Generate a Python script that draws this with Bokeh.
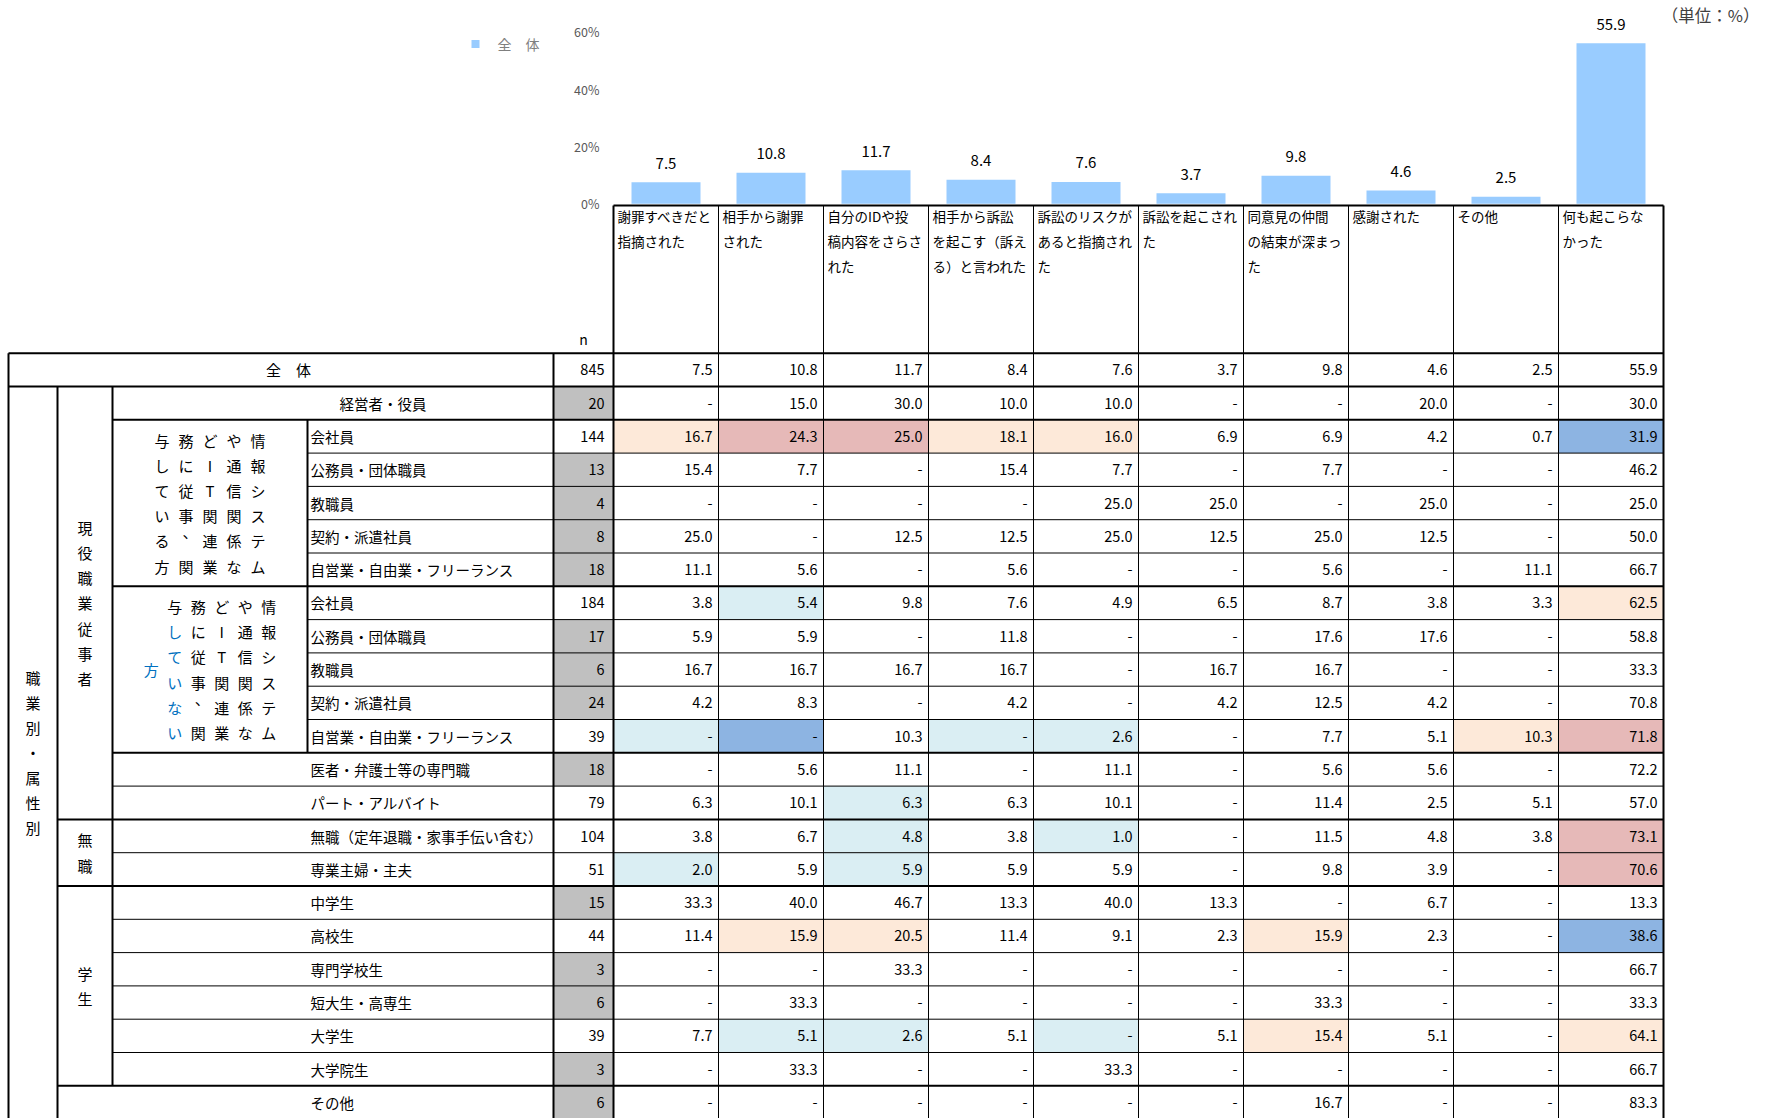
from bokeh.plotting import figure
from bokeh.models import Range1d, ColumnDataSource
from bokeh.core.properties import value
from bokeh.embed import file_html
from bokeh.resources import INLINE

# ---------------- data ----------------
item_labels = [
    ["謝罪すべきだと", "指摘された"],
    ["相手から謝罪", "された"],
    ["自分のIDや投", "稿内容をさらさ", "れた"],
    ["相手から訴訟", "を起こす（訴え", "る）と言われた"],
    ["訴訟のリスクが", "あると指摘され", "た"],
    ["訴訟を起こされ", "た"],
    ["同意見の仲間", "の結束が深まっ", "た"],
    ["感謝された"],
    ["その他"],
    ["何も起こらな", "かった"],
]
overall_label = "全　体"
overall_n = 845
overall = [7.5, 10.8, 11.7, 8.4, 7.6, 3.7, 9.8, 4.6, 2.5, 55.9]

axis_ticks = [0, 20, 40, 60]
axis_tick_labels = ["0%", "20%", "40%", "60%"]

row_labels = [
    "経営者・役員",
    "会社員", "公務員・団体職員", "教職員", "契約・派遣社員", "自営業・自由業・フリーランス",
    "会社員", "公務員・団体職員", "教職員", "契約・派遣社員", "自営業・自由業・フリーランス",
    "医者・弁護士等の専門職", "パート・アルバイト",
    "無職（定年退職・家事手伝い含む）", "専業主婦・主夫",
    "中学生", "高校生", "専門学校生", "短大生・高専生", "大学生", "大学院生",
    "その他",
]
row_n = [20, 144, 13, 4, 8, 18, 184, 17, 6, 24, 39, 18, 79, 104, 51, 15, 44, 3, 6, 39, 3, 6]
row_values = [
    [0, 15.0, 30.0, 10.0, 10.0, 0, 0, 20.0, 0, 30.0],
    [16.7, 24.3, 25.0, 18.1, 16.0, 6.9, 6.9, 4.2, 0.7, 31.9],
    [15.4, 7.7, 0, 15.4, 7.7, 0, 7.7, 0, 0, 46.2],
    [0, 0, 0, 0, 25.0, 25.0, 0, 25.0, 0, 25.0],
    [25.0, 0, 12.5, 12.5, 25.0, 12.5, 25.0, 12.5, 0, 50.0],
    [11.1, 5.6, 0, 5.6, 0, 0, 5.6, 0, 11.1, 66.7],
    [3.8, 5.4, 9.8, 7.6, 4.9, 6.5, 8.7, 3.8, 3.3, 62.5],
    [5.9, 5.9, 0, 11.8, 0, 0, 17.6, 17.6, 0, 58.8],
    [16.7, 16.7, 16.7, 16.7, 0, 16.7, 16.7, 0, 0, 33.3],
    [4.2, 8.3, 0, 4.2, 0, 4.2, 12.5, 4.2, 0, 70.8],
    [0, 0, 10.3, 0, 2.6, 0, 7.7, 5.1, 10.3, 71.8],
    [0, 5.6, 11.1, 0, 11.1, 0, 5.6, 5.6, 0, 72.2],
    [6.3, 10.1, 6.3, 6.3, 10.1, 0, 11.4, 2.5, 5.1, 57.0],
    [3.8, 6.7, 4.8, 3.8, 1.0, 0, 11.5, 4.8, 3.8, 73.1],
    [2.0, 5.9, 5.9, 5.9, 5.9, 0, 9.8, 3.9, 0, 70.6],
    [33.3, 40.0, 46.7, 13.3, 40.0, 13.3, 0, 6.7, 0, 13.3],
    [11.4, 15.9, 20.5, 11.4, 9.1, 2.3, 15.9, 2.3, 0, 38.6],
    [0, 0, 33.3, 0, 0, 0, 0, 0, 0, 66.7],
    [0, 33.3, 0, 0, 0, 0, 33.3, 0, 0, 33.3],
    [7.7, 5.1, 2.6, 5.1, 0, 5.1, 15.4, 5.1, 0, 64.1],
    [0, 33.3, 0, 0, 33.3, 0, 0, 0, 0, 66.7],
    [0, 0, 0, 0, 0, 0, 16.7, 0, 0, 83.3],
]
group_outer = "職業別・属性別"
group_active = "現役職業従事者"
group_nojob = "無職"
group_student = "学生"
it_text_yes = "情報システムや通信関係などIT関連業務に従事、関与している方"
it_text_no = "情報システムや通信関係などIT関連業務に従事、関与していない方"
legend_label = "全　体"
unit_label = "（単位：%）"
n_header = "n"

# ---------------- layout / style ----------------
FONT = value("Noto Sans CJK JP")
PAGE_L, PAGE_R, PAGE_T, PAGE_B = 0, 1768, 0, 1118
HEAD_TOP = 205.0
ROW_TOP = 352.7
ROW_H = 33.3
DATA_L = 613.0
COL_W = 105.0
X_OUT, X_G1, X_G2, X_SUB, X_N = 8.0, 57.0, 112.0, 307.0, 553.0
BASE_Y = 203.3
PX_PER_PCT = 2.87
BAR_COLOR = "#99CCFF"
SMALL_N = 30
C_UP2, C_UP1, C_DN1, C_DN2 = "#E6B9B8", "#FDE9D9", "#DAEEF3", "#8DB4E2"
N_GREY = "#C0C0C0"
label_x_default = 310.0
label_x_special = {0: 339.0}
blue_text = "#0070C0"

NCOL = len(overall)
NROW = len(row_labels) + 1


def rtop(i):
    return ROW_TOP + i * ROW_H


def rmid(i):
    return ROW_TOP + (i + 0.5) * ROW_H


def cleft(j):
    return DATA_L + j * COL_W


p = figure(width=PAGE_R - PAGE_L, height=PAGE_B - PAGE_T,
           x_range=Range1d(PAGE_L, PAGE_R), y_range=Range1d(PAGE_B, PAGE_T),
           output_backend="svg", toolbar_location=None,
           x_axis_location=None, y_axis_location=None, min_border=0)
p.grid.visible = False
p.outline_line_color = None
p.background_fill_color = "white"

pct_top = (BASE_Y - PAGE_T) / PX_PER_PCT
pct_bottom = (BASE_Y - PAGE_B) / PX_PER_PCT
p.extra_y_ranges = {"pct": Range1d(pct_bottom, pct_top)}

# ---------------- backgrounds ----------------
ql, qr, qt, qb, qc = [], [], [], [], []
for i, n in enumerate(row_n):
    r = i + 1
    if n < SMALL_N:
        ql.append(X_N); qr.append(DATA_L); qt.append(rtop(r)); qb.append(rtop(r + 1)); qc.append(N_GREY)
    else:
        for j, v in enumerate(row_values[i]):
            d = round(v - overall[j], 1)
            col = None
            if d >= 10:
                col = C_UP2
            elif d >= 5:
                col = C_UP1
            elif d <= -10:
                col = C_DN2
            elif d <= -5:
                col = C_DN1
            if col:
                ql.append(cleft(j)); qr.append(cleft(j + 1)); qt.append(rtop(r)); qb.append(rtop(r + 1)); qc.append(col)
p.quad(left=ql, right=qr, top=qt, bottom=qb, fill_color=qc, line_color=None)

# ---------------- bar chart ----------------
bar_x = [cleft(j) + COL_W / 2 for j in range(NCOL)]
p.vbar(x=bar_x, top=overall, bottom=0, width=69, fill_color=BAR_COLOR, line_color=None, y_range_name="pct")
p.text(x=bar_x, y=overall, text=[f"{v:.1f}" for v in overall], y_range_name="pct",
       text_align="center", text_baseline="middle", y_offset=-19,
       text_font=FONT, text_font_size="15px", text_color="#000000")
p.text(x=[599] * len(axis_ticks), y=axis_ticks, text=axis_tick_labels, y_range_name="pct",
       text_align="right", text_baseline="middle",
       text_font=FONT, text_font_size="12.5px", text_color="#595959")

# legend
p.rect(x=[475], y=[43.6], width=8, height=8, fill_color=BAR_COLOR, line_color=None)
p.text(x=[497], y=[43.6], text=[legend_label], text_align="left", text_baseline="middle",
       text_font=FONT, text_font_size="14px", text_color="#7F7F7F")
p.text(x=[1759], y=[14], text=[unit_label], text_align="right", text_baseline="middle",
       text_font=FONT, text_font_size="16.5px", text_color="#404040")

# ---------------- lines ----------------
thick = dict(x0=[], y0=[], x1=[], y1=[])
thin = dict(x0=[], y0=[], x1=[], y1=[])


def seg(d, x0, y0, x1, y1):
    d["x0"].append(x0); d["y0"].append(y0); d["x1"].append(x1); d["y1"].append(y1)


bottom_y = rtop(NROW)
right_x = cleft(NCOL)
# verticals
seg(thick, X_OUT, rtop(0), X_OUT, bottom_y)
seg(thick, X_G1, rtop(1), X_G1, bottom_y)
seg(thick, X_G2, rtop(1), X_G2, rtop(22))
seg(thick, X_SUB, rtop(2), X_SUB, rtop(12))
seg(thick, X_N, rtop(0), X_N, bottom_y)
seg(thick, DATA_L, HEAD_TOP, DATA_L, bottom_y)
for j in range(1, NCOL):
    seg(thin, cleft(j), HEAD_TOP, cleft(j), bottom_y)
seg(thick, right_x, HEAD_TOP, right_x, bottom_y)
# horizontals
seg(thick, DATA_L, HEAD_TOP, right_x, HEAD_TOP)
seg(thick, X_OUT, rtop(0), right_x, rtop(0))
seg(thick, X_OUT, rtop(1), right_x, rtop(1))
for r in (2, 7, 12):
    seg(thick, X_G2, rtop(r), right_x, rtop(r))
for r in (3, 4, 5, 6, 8, 9, 10, 11):
    seg(thin, X_SUB, rtop(r), right_x, rtop(r))
for r in (13, 15, 17, 18, 19, 20, 21):
    seg(thin, X_G2, rtop(r), right_x, rtop(r))
for r in (14, 16, 22):
    seg(thick, X_G1, rtop(r), right_x, rtop(r))
p.segment(source=ColumnDataSource(thick), x0="x0", y0="y0", x1="x1", y1="y1", line_color="#000000", line_width=2)
p.segment(source=ColumnDataSource(thin), x0="x0", y0="y0", x1="x1", y1="y1", line_color="#000000", line_width=1)

# ---------------- header texts ----------------
hx, hy, ht = [], [], []
for j, lines in enumerate(item_labels):
    for k, s in enumerate(lines):
        hx.append(cleft(j) + 4); hy.append(215.5 + 25 * k); ht.append(s)
p.text(x=hx, y=hy, text=ht, text_align="left", text_baseline="middle",
       text_font=FONT, text_font_size="13.5px", text_color="#000000")
p.text(x=[(X_N + DATA_L) / 2], y=[338], text=[n_header], text_align="center", text_baseline="middle",
       text_font=FONT, text_font_size="14px", text_color="#000000")

# ---------------- table texts ----------------
p.text(x=[288], y=[rmid(0)], text=[overall_label], text_align="center", text_baseline="middle",
       text_font=FONT, text_font_size="15px", text_color="#000000")
lx = [label_x_special.get(i, label_x_default) for i in range(len(row_labels))]
ly = [rmid(i + 1) for i in range(len(row_labels))]
p.text(x=lx, y=ly, text=row_labels, text_align="left", text_baseline="middle",
       text_font=FONT, text_font_size="14.5px", text_color="#000000")

nx = [DATA_L - 9] * NROW
ny = [rmid(i) for i in range(NROW)]
nt = [str(overall_n)] + [str(n) for n in row_n]
p.text(x=nx, y=ny, text=nt, text_align="right", text_baseline="middle",
       text_font=FONT, text_font_size="14.5px", text_color="#000000")

vx, vy, vt = [], [], []
all_rows = [overall] + row_values
for i, vals in enumerate(all_rows):
    for j, v in enumerate(vals):
        vx.append(cleft(j + 1) - 6); vy.append(rmid(i)); vt.append("-" if v == 0 else f"{v:.1f}")
p.text(x=vx, y=vy, text=vt, text_align="right", text_baseline="middle",
       text_font=FONT, text_font_size="14.5px", text_color="#000000")

# ---------------- vertical group labels ----------------
def vertical(s, cx, cy, sp, color="#000000"):
    n = len(s)
    ys = [cy + (k - (n - 1) / 2) * sp for k in range(n)]
    p.text(x=[cx] * n, y=ys, text=list(s), text_align="center", text_baseline="middle",
           text_font=FONT, text_font_size="15px", text_color=color)


vertical(group_outer, (X_OUT + X_G1) / 2, (rtop(1) + rtop(NROW)) / 2, 25)
vertical(group_active, (X_G1 + X_G2) / 2, (rtop(1) + rtop(14)) / 2, 25.2)
vertical(group_nojob, (X_G1 + X_G2) / 2, (rtop(14) + rtop(16)) / 2, 26.5)
vertical(group_student, (X_G1 + X_G2) / 2, (rtop(16) + rtop(22)) / 2, 25.5)


def vgrid(s, r0, r1, xsp, ysp, per_col=6, blue_from=None):
    cx = (X_G2 + X_SUB) / 2
    cy = (rtop(r0) + rtop(r1)) / 2
    cols = [s[k:k + per_col] for k in range(0, len(s), per_col)]
    nc = len(cols)
    xs, ys, ts, cs = [], [], [], []
    cx_, cy_, ct_, cc_ = [], [], [], []
    for c, chars in enumerate(cols):
        x = cx + (nc - 1) / 2 * xsp - c * xsp
        m = len(chars)
        for r, ch in enumerate(chars):
            idx = c * per_col + r
            y = cy + (r - (m - 1) / 2) * ysp
            col = blue_text if (blue_from is not None and idx >= blue_from) else "#000000"
            if ch == "、":
                cx_.append(x); cy_.append(y); ct_.append(ch); cc_.append(col)
            else:
                xs.append(x); ys.append(y); ts.append(ch); cs.append(col)
    p.text(x=xs, y=ys, text=ts, text_color=cs, text_align="center", text_baseline="middle",
           text_font=FONT, text_font_size="15px")
    p.text(x=cx_, y=cy_, text=ct_, text_color=cc_, text_align="center", text_baseline="middle",
           x_offset=4, y_offset=-9, text_font=FONT, text_font_size="15px")


vgrid(it_text_yes, 2, 7, 24, 25.2)
vgrid(it_text_no, 7, 12, 23.5, 25.2, blue_from=it_text_no.index("していない"))

open("out.html", "w").write(file_html(p, INLINE))
